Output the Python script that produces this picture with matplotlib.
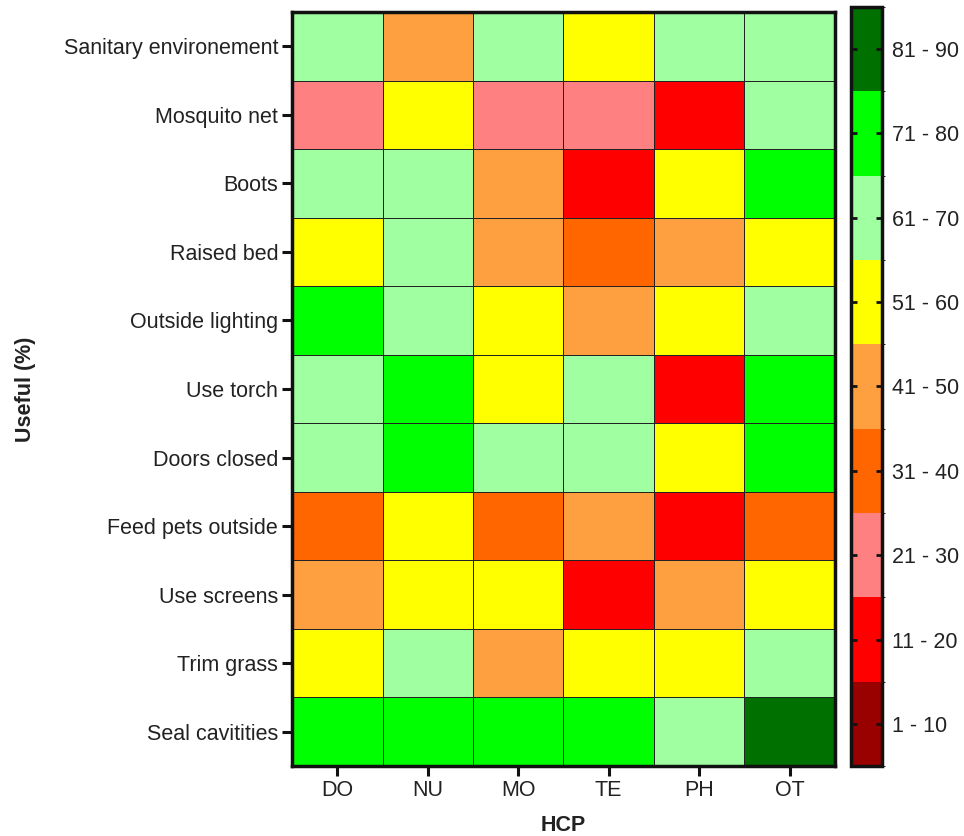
import numpy as np
import matplotlib
matplotlib.use("Agg")
import matplotlib.pyplot as plt
from matplotlib.colors import ListedColormap, BoundaryNorm

plt.rcParams['font.family'] = ['Liberation Sans', 'DejaVu Sans']

measures = ["Sanitary environement", "Mosquito net", "Boots", "Raised bed",
            "Outside lighting", "Use torch", "Doors closed", "Feed pets outside",
            "Use screens", "Trim grass", "Seal cavitities"]
hcp = ["DO", "NU", "MO", "TE", "PH", "OT"]

# Percentage judged useful (bin midpoints), one row per measure
useful = np.array([
    [65, 45, 65, 55, 65, 65],
    [25, 55, 25, 25, 15, 65],
    [65, 65, 45, 15, 55, 75],
    [55, 65, 45, 35, 45, 55],
    [75, 65, 55, 45, 55, 65],
    [65, 75, 55, 65, 15, 75],
    [65, 75, 65, 65, 55, 75],
    [35, 55, 35, 45, 15, 35],
    [45, 55, 55, 15, 45, 55],
    [55, 65, 45, 55, 55, 65],
    [75, 75, 75, 75, 65, 85],
])

bin_edges = [0.5, 10.5, 20.5, 30.5, 40.5, 50.5, 60.5, 70.5, 80.5, 90.5]
bin_labels = ["1 - 10", "11 - 20", "21 - 30", "31 - 40", "41 - 50",
              "51 - 60", "61 - 70", "71 - 80", "81 - 90"]
bin_colors = ["#990000", "#FF0000", "#FF8080", "#FF6600", "#FFA040",
              "#FFFF00", "#A0FFA0", "#00FF00", "#007000"]

cmap = ListedColormap(bin_colors)
norm = BoundaryNorm(bin_edges, cmap.N)

fs = 15.5
fig = plt.figure(figsize=(9.64, 8.36), dpi=100)
ax = fig.add_axes([0.303, 0.0837, 0.563, 0.902])
cax = fig.add_axes([0.883, 0.0837, 0.032, 0.908])

mesh = ax.pcolormesh(useful, cmap=cmap, norm=norm, edgecolors="#222222", linewidth=0.5)
ax.set_xlim(0, len(hcp))
ax.set_ylim(len(measures), 0)

ax.set_xticks(np.arange(len(hcp)) + 0.5)
ax.set_xticklabels(hcp, fontsize=fs, color="#222222")
ax.set_yticks(np.arange(len(measures)) + 0.5)
ax.set_yticklabels(measures, fontsize=fs, color="#222222")
ax.tick_params(axis="both", length=7, width=2.2, color="#111111", pad=3)

for sp in ax.spines.values():
    sp.set_linewidth(2.5)
    sp.set_color("#111111")

ax.set_xlabel("HCP", fontsize=fs, fontweight="bold", labelpad=10, color="#222222")
ax.set_ylabel("Useful (%)", fontsize=fs, fontweight="bold", labelpad=20, color="#222222")

centers = [(bin_edges[i] + bin_edges[i + 1]) / 2 for i in range(len(bin_labels))]
cb = fig.colorbar(mesh, cax=cax, boundaries=bin_edges, ticks=centers)
cb.set_ticklabels(bin_labels)
cb.ax.tick_params(labelsize=fs, length=4, width=2.0, color="#111111",
                  direction="in", left=True, right=True, pad=7, labelcolor="#222222")
cb.outline.set_linewidth(2.5)
cb.outline.set_edgecolor("#111111")

fig.savefig("out.png", dpi=100)
